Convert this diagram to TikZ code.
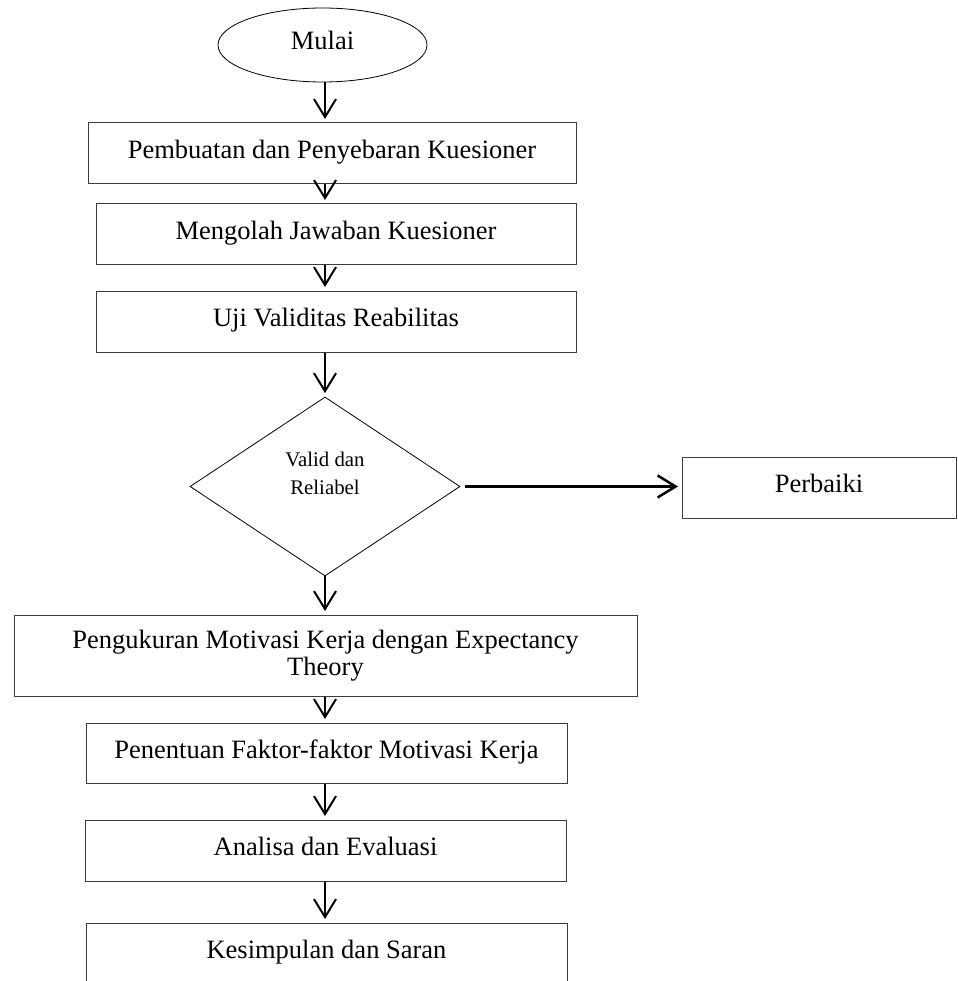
\documentclass[tikz,border=0pt]{standalone}
\usepackage{fontspec}
\setmainfont{Liberation Serif}
\usepackage{tikz}
\usetikzlibrary{arrows.meta,shapes.geometric}
\definecolor{garis}{HTML}{3C3C3C}
\tikzset{
  kotak/.style={draw=garis,line width=1pt,rectangle,inner sep=0pt,align=center,
    font=\fontsize{26.5}{27}\selectfont},
  baris/.style={kotak,text height=18pt,text depth=8pt},
  mulai/.style={draw=black,line width=0.8pt,ellipse,inner sep=0pt,
    font=\fontsize{26.5}{27}\selectfont,text height=18pt,text depth=8pt},
  keputusan/.style={draw=black,line width=0.8pt,diamond,inner sep=0pt,align=center,
    font=\fontsize{20.8}{27.6}\selectfont,text height=42pt,text depth=26pt},
  panah/.style={-{Straight Barb[length=18pt,width=22pt]},black,line width=2pt,shorten >=3.5pt},
}

\begin{document}
\begin{tikzpicture}[x=1pt,y=-1pt]
  \useasboundingbox (0,0) rectangle (957,981);
  \coordinate (sumbu) at (325,0);
  \node[mulai,minimum width=209pt,minimum height=74pt] (mulai) at (322.5,45) {Mulai};
  \node[baris,minimum width=488pt,minimum height=61pt] (buat) at (332,153.5) {Pembuatan dan Penyebaran Kuesioner};
  \node[baris,minimum width=480pt,minimum height=61pt] (olah) at (336,234.5) {Mengolah Jawaban Kuesioner};
  \node[baris,minimum width=480pt,minimum height=61pt] (uji) at (336,321.5) {Uji Validitas Reabilitas};
  \node[keputusan,minimum width=270pt,minimum height=179pt] (valid) at (325,486.5) {Valid dan\\Reliabel};
  \node[baris,minimum width=274pt,minimum height=61pt] (perbaiki) at (819,487.5) {Perbaiki};
  \node[kotak,minimum width=623pt,minimum height=81pt] (ukur) at (325.5,655.5)
    {Pengukuran Motivasi Kerja dengan Expectancy\\Theory};
  \node[baris,minimum width=481pt,minimum height=60pt] (faktor) at (326.5,753) {Penentuan Faktor-faktor Motivasi Kerja};
  \node[baris,minimum width=481pt,minimum height=61pt] (analisa) at (325.5,850.5) {Analisa dan Evaluasi};
  \node[baris,minimum width=481pt,minimum height=61pt] (simpulan) at (326.5,953.5) {Kesimpulan dan Saran};
  % alur utama
  \foreach \a/\b in {mulai/buat,buat/olah,olah/uji,uji/valid,valid/ukur,ukur/faktor,faktor/analisa,analisa/simpulan}
    \draw[panah] (sumbu |- \a.south) -- (sumbu |- \b.north);
  \draw[panah,line width=2.5pt,shorten <=5pt] (valid.east) -- (valid.east -| perbaiki.west);
\end{tikzpicture}
\end{document}
